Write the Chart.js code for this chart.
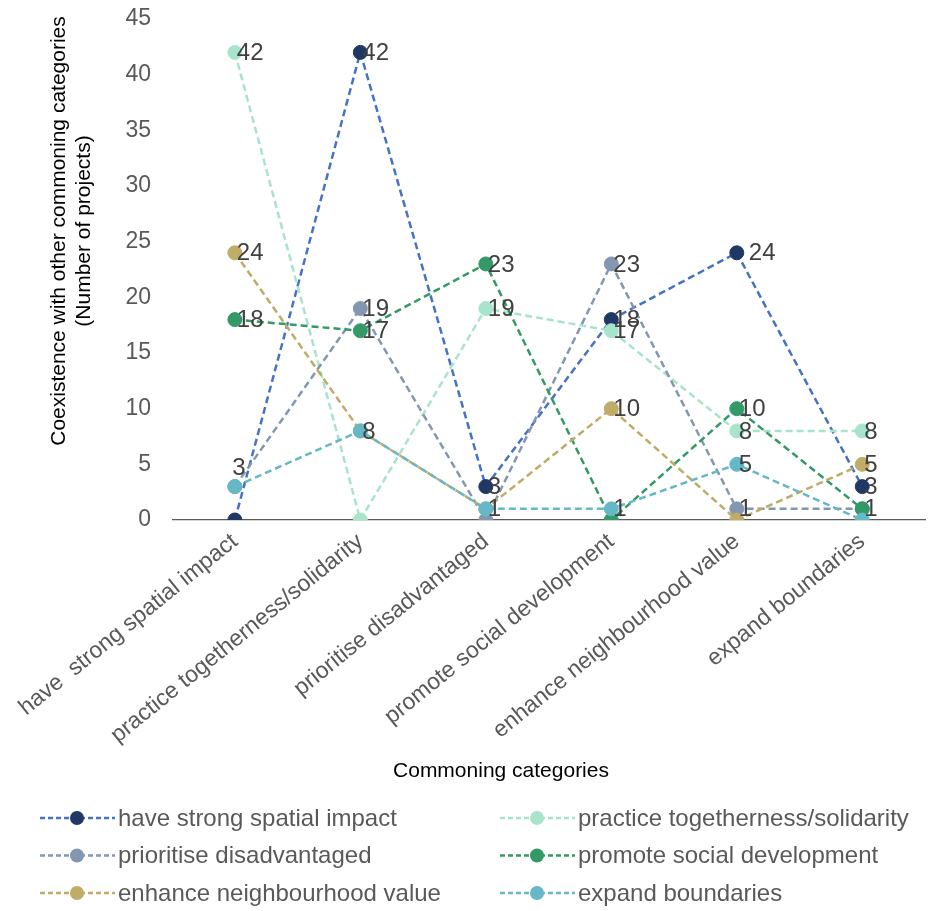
<!DOCTYPE html>
<html>
<head>
<meta charset="utf-8">
<script src="https://cdn.jsdelivr.net/npm/chart.js@4.4.1/dist/chart.umd.min.js"></script>
<style>
  html, body { margin: 0; padding: 0; background: #fff; }
  #wrap { width: 933px; height: 911px; }
</style>
</head>
<body>
<div id="wrap"><canvas id="coexChart" width="933" height="911"></canvas></div>
<script>
// categories on the x axis
const categories = [
    "have  strong spatial impact",
    "practice togetherness/solidarity",
    "prioritise disadvantaged",
    "promote social development",
    "enhance neighbourhood value",
    "expand boundaries"
];

// number of projects per series
const strongSpatial = [0, 42, 3, 18, 24, 3];
const togetherness = [42, 0, 19, 17, 8, 8];
const disadvantaged = [3, 19, 0, 23, 1, 1];
const socialDev = [18, 17, 23, 0, 10, 1];
const neighbourhood = [24, 8, 1, 10, 0, 5];
const expandBoundaries = [3, 8, 1, 1, 5, 0];

const yMin = 0, yMax = 45, yStep = 5;

const FONT = "'Liberation Sans', Arial, sans-serif";

const seriesDefs = [
    { label: "have strong spatial impact", data: strongSpatial, line: '#4472c4', point: '#1f3864' },
    { label: "practice togetherness/solidarity", data: togetherness, line: '#a8e4cb', point: '#a8e4cb' },
    { label: "prioritise disadvantaged", data: disadvantaged, line: '#8497b0', point: '#8497b0' },
    { label: "promote social development", data: socialDev, line: '#339966', point: '#339966' },
    { label: "enhance neighbourhood value", data: neighbourhood, line: '#bfac66', point: '#bfac66' },
    { label: "expand boundaries", data: expandBoundaries, line: '#66b8c6', point: '#66b8c6' }
];

const datasets = seriesDefs.map((s, i) => ({
    label: s.label,
    data: s.data,
    borderColor: s.line,
    backgroundColor: s.point,
    pointBackgroundColor: s.point,
    pointBorderColor: s.point,
    pointBorderWidth: 1,
    pointRadius: 7,
    borderWidth: 2.5,
    borderDash: [7, 4],
    tension: 0,
    fill: false,
    order: seriesDefs.length - i // later series drawn on top, like excel
}));

// value labels beside the points (zeros left out)
const labelOverrides = { '2:0': { pos: 'above' }, '0:4': { dx: 12 } };
const valueLabels = {
    id: 'valueLabels',
    afterDatasetsDraw(chart) {
        const ctx = chart.ctx;
        const done = {};
        ctx.save();
        ctx.font = '24px ' + FONT;
        ctx.fillStyle = '#404040';
        chart.data.datasets.forEach((ds, di) => {
            const meta = chart.getDatasetMeta(di);
            meta.data.forEach((pt, i) => {
                const v = ds.data[i];
                if (v === 0) return;
                const key = i + ':' + v;
                if (done[key]) return;
                done[key] = true;
                const o = labelOverrides[di + ':' + i] || {};
                if (o.pos === 'above') {
                    ctx.textAlign = 'center';
                    ctx.textBaseline = 'bottom';
                    ctx.fillText(String(v), pt.x + 4, pt.y - 6);
                } else {
                    ctx.textAlign = 'left';
                    ctx.textBaseline = 'middle';
                    ctx.fillText(String(v), pt.x + (o.dx || 2), pt.y + 1);
                }
            });
        });
        ctx.restore();
    }
};

// axis titles + two column legend
const extras = {
    id: 'extras',
    afterDraw(chart) {
        const ctx = chart.ctx;
        ctx.save();
        ctx.fillStyle = '#000';
        ctx.font = '21px ' + FONT;
        ctx.textAlign = 'center';
        ctx.textBaseline = 'middle';
        ctx.fillText('Commoning categories', 501, 771);

        ctx.translate(0, 231);
        ctx.rotate(-Math.PI / 2);
        ctx.fillText('Coexistence with other commoning categories', 0, 59);
        ctx.fillText('(Number of projects)', 0, 84);
        ctx.restore();

        ctx.save();
        ctx.font = '24px ' + FONT;
        ctx.textAlign = 'left';
        ctx.textBaseline = 'middle';
        chart.data.datasets.forEach((ds, i) => {
            const col = i % 2, row = Math.floor(i / 2);
            const x0 = col ? 500 : 40;
            const y = 818 + row * 37.5;
            ctx.strokeStyle = ds.borderColor;
            ctx.lineWidth = 2.5;
            ctx.setLineDash([5, 3]);
            ctx.beginPath();
            ctx.moveTo(x0, y);
            ctx.lineTo(x0 + 75, y);
            ctx.stroke();
            ctx.setLineDash([]);
            ctx.fillStyle = ds.pointBackgroundColor;
            ctx.beginPath();
            ctx.arc(x0 + 37, y, 7, 0, Math.PI * 2);
            ctx.fill();
            ctx.fillStyle = '#595959';
            ctx.fillText(ds.label, x0 + 78, y + 1);
        });
        ctx.restore();
    }
};

new Chart(document.getElementById('coexChart'), {
    type: 'line',
    data: { labels: categories, datasets: datasets },
    options: {
        responsive: false,
        animation: false,
        devicePixelRatio: 1,
        layout: { padding: { top: 19, right: 0, bottom: 0, left: 0 } },
        plugins: {
            legend: { display: false },
            tooltip: { enabled: false }
        },
        scales: {
            x: {
                offset: true,
                grid: { display: false, drawTicks: false },
                border: { display: true, color: '#595959', width: 1.2 },
                ticks: {
                    color: '#595959',
                    font: { family: FONT, size: 23 },
                    minRotation: 39,
                    maxRotation: 39,
                    padding: 8
                },
                afterFit(scale) { scale.height = 391; }
            },
            y: {
                min: yMin,
                max: yMax,
                grid: { display: false, drawTicks: false },
                border: { display: false },
                ticks: {
                    stepSize: yStep,
                    color: '#595959',
                    font: { family: FONT, size: 23 },
                    padding: 21
                },
                afterFit(scale) {
                    scale.width = 171;
                    scale.paddingTop = 0;
                    scale.paddingBottom = 0;
                }
            }
        }
    },
    plugins: [valueLabels, extras]
});
</script>
</body>
</html>
